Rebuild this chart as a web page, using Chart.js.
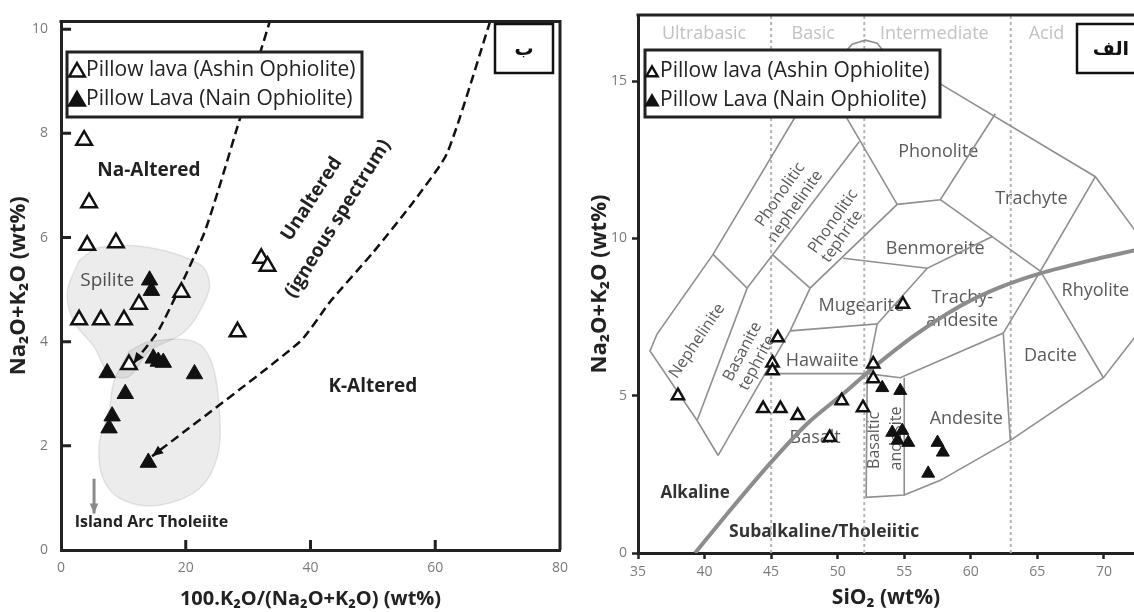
<!DOCTYPE html>
<html>
<head>
<meta charset="utf-8">
<script src="https://cdn.jsdelivr.net/npm/chart.js@4.4.1/dist/chart.umd.min.js"></script>
<style>
  html, body { margin: 0; padding: 0; background: #fff; overflow: hidden; }
  #left { position: absolute; left: 0; top: 0; width: 580px; height: 612px; }
  #right { position: absolute; left: 580px; top: 0; width: 554px; height: 612px; }
</style>
</head>
<body>
<div id="left"><canvas id="alteration" width="580" height="612"></canvas></div>
<div id="right"><canvas id="tas" width="554" height="612"></canvas></div>
<script>
// ---------- panel ب : alteration diagram ----------
const altXTicks = [0, 20, 40, 60, 80];
const altYTicks = [0, 2, 4, 6, 8, 10];

// Pillow lava (Ashin Ophiolite) - open triangles
const ashinAlt = [[3.7, 7.87], [4.5, 6.67], [4.2, 5.85], [8.8, 5.9], [32.1, 5.6], [33.1, 5.45],
  [19.3, 4.95], [12.5, 4.72], [2.9, 4.42], [6.4, 4.42], [10.1, 4.42], [28.3, 4.19], [10.9, 3.56]];
// Pillow Lava (Nain Ophiolite) - filled triangles
const nainAlt = [[14.2, 5.18], [14.5, 4.98], [14.8, 3.68], [15.6, 3.62], [16.4, 3.6], [7.4, 3.4],
  [21.4, 3.38], [10.3, 3.0], [8.2, 2.57], [7.7, 2.34], [14.0, 1.68]];

// igneous spectrum boundaries (dashed)
const naSideLine = [[33.6, 10.2], [28.6, 8.25], [23.0, 6.1], [15.8, 4.25], [11.6, 3.58]];
const kSideLine = [[68.8, 10.15], [61.9, 7.62], [56.4, 6.67], [50.0, 5.71], [43.1, 4.76], [38.3, 4.0], [14.6, 1.8]];

// shaded fields
const spiliteField = [[2.9, 5.56], [6.1, 5.81], [14.1, 5.81], [22.2, 5.49], [23.8, 5.14], [23.0, 4.76],
  [19.8, 4.19], [14.1, 3.81], [10.9, 3.33], [7.7, 3.39], [5.3, 3.9], [2.1, 4.38], [1.0, 4.95], [2.9, 5.56]];
const iatField = [[10.9, 3.81], [14.1, 4.0], [21.4, 4.0], [24.1, 3.62], [25.4, 2.67], [25.1, 1.81],
  [22.2, 1.18], [15.8, 0.86], [10.1, 0.95], [6.9, 1.33], [6.1, 2.0], [7.7, 2.67], [8.5, 3.24], [10.9, 3.81]];
const iatArrow = [[5.3, 1.37], [5.3, 0.7]];

// ---------- panel الف : TAS diagram ----------
const tasXTicks = [35, 40, 45, 50, 55, 60, 65, 70];
const tasYTicks = [0, 5, 10, 15];

const ashinTas = [[38.0, 5.0], [45.5, 6.84], [45.1, 6.04], [45.1, 5.79], [44.4, 4.59], [45.7, 4.59],
  [47.0, 4.37], [49.4, 3.67], [50.3, 4.84], [51.9, 4.62], [52.67, 6.01], [52.67, 5.54], [54.9, 7.91]];
const nainTas = [[53.35, 5.25], [54.7, 5.16], [54.1, 3.83], [54.85, 3.89], [55.3, 3.51], [54.5, 3.58],
  [57.5, 3.51], [57.9, 3.2], [56.8, 2.53]];

// alkaline / subalkaline divide
const alkalineCurve = [[39.29, 0], [41.92, 1.36], [44.92, 2.85], [47.71, 4.11], [50.41, 5.06], [52.67, 5.89],
  [55.83, 6.93], [59.21, 7.85], [62.22, 8.45], [65.23, 8.89], [68.98, 9.3], [72.29, 9.62]];

// SiO2 class limits
const silicaLimits = [45, 52, 63];
const silicaClasses = ['Ultrabasic', 'Basic', 'Intermediate', 'Acid'];

// field boundaries
const tasOuter = [[41.02, 3.1], [39.44, 4.21], [35.9, 6.42], [36.43, 6.96], [40.64, 9.49], [46.95, 13.96],
  [50.56, 15.92], [51.09, 16.17], [52.07, 16.3], [52.97, 16.2], [53.5, 15.92], [57.71, 14.91],
  [69.36, 11.96], [72.29, 10.28]];
const nephelinitePart = [[39.44, 4.21], [43.2, 8.42], [40.64, 9.49]];
const phonNephPart = [[43.2, 8.42], [51.62, 13.07]];
const phonoliteLeft = [[48.76, 15.22], [54.47, 11.08]];
const phonTephBottom = [[45.08, 9.49], [47.93, 8.42]];
const tephriteRight = [[54.47, 11.08], [47.93, 8.42], [46.43, 7.06], [44.55, 5.7], [41.02, 3.1]];
const phonoliteBottom = [[54.47, 11.08], [57.71, 11.23], [61.84, 13.96]];
const trachyteLeft = [[57.71, 11.23], [65.23, 8.96]];
const benmoreiteBottom = [[50.41, 9.37], [56.73, 9.05], [61.62, 10.06]];
const mugeariteRight = [[56.73, 9.05], [52.97, 7.28]];
const hawaiiteBox = [[46.43, 7.06], [52.97, 7.28], [52.22, 5.7], [44.55, 5.7]];
const basAndesiteBox = [[52.22, 5.7], [52.14, 1.77], [55.0, 1.84], [55.0, 5.57]];
const trachyandBottom = [[52.22, 5.7], [54.7, 5.57], [62.44, 6.99], [65.23, 8.96]];
const andesiteBottom = [[55.0, 1.84], [57.71, 2.31], [62.97, 3.58], [69.96, 5.57], [72.29, 6.84]];
const daciteLeft = [[62.44, 6.99], [62.97, 3.58]];
const rhyoliteLeft = [[69.36, 11.96], [65.23, 8.96], [69.96, 5.57]];

const tasBoundaries = [tasOuter, nephelinitePart, phonNephPart, phonoliteLeft, phonTephBottom, tephriteRight,
  phonoliteBottom, trachyteLeft, benmoreiteBottom, mugeariteRight, hawaiiteBox, basAndesiteBox,
  trachyandBottom, andesiteBottom, daciteLeft, rhyoliteLeft];

const pts = arr => arr.map(p => ({ x: p[0], y: p[1] }));

// ---------- plugins ----------
function drawTri(ctx, cx, cy, r, filled, lw) {
  ctx.beginPath();
  ctx.moveTo(cx, cy - r);
  ctx.lineTo(cx + r * 0.866, cy + r * 0.5);
  ctx.lineTo(cx - r * 0.866, cy + r * 0.5);
  ctx.closePath();
  ctx.fillStyle = filled ? '#111' : '#fff';
  ctx.fill();
  ctx.lineWidth = lw;
  ctx.strokeStyle = '#111';
  ctx.stroke();
}

const fieldLabels = {
  id: 'fieldLabels',
  beforeDatasetsDraw(chart, args, opts) {
    const { ctx, scales: { x, y } } = chart;
    for (const t of opts.items) {
      ctx.save();
      ctx.translate(x.getPixelForValue(t.x), y.getPixelForValue(t.y));
      ctx.rotate((t.rot || 0) * Math.PI / 180);
      ctx.font = t.font || opts.font;
      ctx.fillStyle = t.color || opts.color;
      ctx.textAlign = 'center';
      ctx.textBaseline = 'middle';
      ctx.fillText(t.text, 0, 0);
      ctx.restore();
    }
  }
};

const arrowHeads = {
  id: 'arrowHeads',
  afterDatasetsDraw(chart) {
    const ctx = chart.ctx;
    chart.data.datasets.forEach((ds, i) => {
      if (!ds.arrowEnd) return;
      const d = chart.getDatasetMeta(i).data;
      const a = d[d.length - 2], b = d[d.length - 1];
      const ang = Math.atan2(b.y - a.y, b.x - a.x);
      const L = ds.arrowSize || 12;
      ctx.save();
      ctx.fillStyle = ds.borderColor;
      ctx.beginPath();
      ctx.moveTo(b.x, b.y);
      ctx.lineTo(b.x - L * Math.cos(ang - 0.4), b.y - L * Math.sin(ang - 0.4));
      ctx.lineTo(b.x - L * Math.cos(ang + 0.4), b.y - L * Math.sin(ang + 0.4));
      ctx.closePath();
      ctx.fill();
      ctx.restore();
    });
  }
};

const boxes = {
  id: 'boxes',
  afterDatasetsDraw(chart, args, opts) {
    const ctx = chart.ctx;
    const lg = opts.legend;
    ctx.save();
    ctx.fillStyle = '#fff';
    ctx.fillRect(lg.x, lg.y, lg.w, lg.h);
    ctx.lineWidth = 3;
    ctx.strokeStyle = '#222';
    ctx.strokeRect(lg.x, lg.y, lg.w, lg.h);
    lg.rows.forEach((row, i) => {
      const cy = lg.y + lg.first + i * lg.gap;
      drawTri(ctx, lg.mx, cy + 2, lg.r, row.filled, 2.5);
      ctx.font = lg.font;
      ctx.fillStyle = '#222';
      ctx.textAlign = 'left';
      ctx.textBaseline = 'middle';
      ctx.fillText(row.text, lg.tx, cy);
    });
    const tag = opts.tag;
    ctx.fillStyle = '#fff';
    ctx.fillRect(tag.x, tag.y, tag.w, tag.h);
    ctx.strokeRect(tag.x, tag.y, tag.w, tag.h);
    ctx.font = 'bold 19px "DejaVu Sans"';
    ctx.fillStyle = '#111';
    ctx.textAlign = 'center';
    ctx.fillText(tag.text, tag.cx, tag.cy);
    ctx.restore();
  }
};

const frame = {
  id: 'frame',
  afterDraw(chart, args, opts) {
    const { ctx, chartArea: a, scales: { x, y } } = chart;
    ctx.save();
    ctx.strokeStyle = '#222';
    ctx.lineWidth = 3;
    ctx.beginPath();
    ctx.moveTo(a.left - 1.5, a.top);
    ctx.lineTo(a.right, a.top);
    if (opts.right) ctx.lineTo(a.right, a.bottom);
    ctx.stroke();
    if (opts.inwardTicks) {
      ctx.lineWidth = 3;
      ctx.beginPath();
      x.ticks.forEach(t => {
        const px = x.getPixelForValue(t.value);
        if (px > a.left + 2 && px < a.right - 2) { ctx.moveTo(px, a.bottom); ctx.lineTo(px, a.bottom - 10); }
      });
      y.ticks.forEach(t => {
        const py = y.getPixelForValue(t.value);
        if (py < a.bottom - 2) { ctx.moveTo(a.left, py); ctx.lineTo(a.left + 10, py); }
      });
      ctx.stroke();
    }
    ctx.restore();
  }
};

const tickFont = { family: '"Open Sans"', size: 14 };

function linAxis(min, max, tickList, title, titleSize, titlePad, ticksPad, size, drawTicks, isX) {
  return {
    type: 'linear', min: min, max: max,
    afterBuildTicks: s => { s.ticks = tickList.map(v => ({ value: v })); },
    afterFit: s => { if (isX) s.height = size; else s.width = size; },
    ticks: { font: tickFont, color: '#7a7a7a', padding: ticksPad },
    grid: { drawOnChartArea: false, drawTicks: drawTicks, tickLength: 6, tickWidth: 2.5, tickColor: '#222' },
    border: { display: true, color: '#222', width: 3 },
    title: { display: true, text: title, font: { family: '"Open Sans"', size: titleSize, weight: 'bold' }, color: '#222', padding: titlePad }
  };
}

// ---------- left chart ----------
new Chart(document.getElementById('alteration'), {
  type: 'scatter',
  data: {
    datasets: [
      { data: pts(ashinAlt), pointStyle: 'triangle', pointRadius: 9, backgroundColor: '#fff', borderColor: '#111', borderWidth: 2.5, order: 0 },
      { data: pts(nainAlt), pointStyle: 'triangle', pointRadius: 9.5, backgroundColor: '#111', borderColor: '#111', borderWidth: 1, order: 1 },
      { data: pts(naSideLine), showLine: true, pointRadius: 0, borderColor: '#111', borderWidth: 2.5, borderDash: [9, 5], tension: 0.2, arrowEnd: true, order: 5 },
      { data: pts(kSideLine), showLine: true, pointRadius: 0, borderColor: '#111', borderWidth: 2.5, borderDash: [9, 5], tension: 0.2, arrowEnd: true, order: 5 },
      { data: pts(iatArrow), showLine: true, pointRadius: 0, borderColor: '#8a8a8a', borderWidth: 3, arrowEnd: true, arrowSize: 11, order: 6 },
      { data: pts(spiliteField), showLine: true, pointRadius: 0, fill: 'shape', tension: 0.35, backgroundColor: 'rgba(0,0,0,0.075)', borderColor: 'rgba(0,0,0,0.09)', borderWidth: 1.5, order: 10 },
      { data: pts(iatField), showLine: true, pointRadius: 0, fill: 'shape', tension: 0.35, backgroundColor: 'rgba(0,0,0,0.075)', borderColor: 'rgba(0,0,0,0.09)', borderWidth: 1.5, order: 10 }
    ]
  },
  options: {
    responsive: false, animation: false, events: [],
    layout: { padding: { left: 0, right: 20, top: 15, bottom: 0 }, autoPadding: false },
    scales: {
      x: linAxis(0, 80, altXTicks, '100.K\u2082O/(Na\u2082O+K\u2082O) (wt%)', 20, { top: 0, bottom: 1 }, 10, 62, false, true),
      y: linAxis(0, 10.15, altYTicks, 'Na\u2082O+K\u2082O (wt%)', 22, { top: 6, bottom: 0 }, 13, 61, false, false)
    },
    plugins: {
      legend: { display: false }, tooltip: { enabled: false },
      fieldLabels: {
        font: 'bold 19px "Open Sans"', color: '#222',
        items: [
          { text: 'Na-Altered', x: 14.1, y: 7.28 },
          { text: 'Spilite', x: 7.4, y: 5.18, font: '19px "Open Sans"', color: '#555' },
          { text: 'Unaltered', x: 40.2, y: 6.74, rot: -57 },
          { text: '(igneous spectrum)', x: 44.4, y: 6.36, rot: -58 },
          { text: 'K-Altered', x: 50.0, y: 3.14 },
          { text: 'Island Arc Tholeiite', x: 14.5, y: 0.53, font: 'bold 16px "Open Sans"' }
        ]
      },
      boxes: {
        legend: { x: 67, y: 52, w: 295, h: 65, first: 18, gap: 29, mx: 77, r: 9, tx: 86, font: '21px "Open Sans"',
          rows: [{ text: 'Pillow lava (Ashin Ophiolite)', filled: false }, { text: 'Pillow Lava (Nain Ophiolite)', filled: true }] },
        tag: { x: 495, y: 24, w: 58, h: 49, cx: 524, cy: 50, text: '\u0628' }
      },
      frame: { right: true, inwardTicks: true }
    }
  },
  plugins: [fieldLabels, arrowHeads, boxes, frame]
});

// ---------- right chart ----------
const tasDatasets = [
  { data: pts(ashinTas), pointStyle: 'triangle', pointRadius: 7, backgroundColor: '#fff', borderColor: '#111', borderWidth: 2.5, order: 0 },
  { data: pts(nainTas), pointStyle: 'triangle', pointRadius: 7.5, backgroundColor: '#111', borderColor: '#111', borderWidth: 1, order: 1 },
  { data: pts(alkalineCurve), showLine: true, pointRadius: 0, borderColor: '#8c8c8c', borderWidth: 4, tension: 0.3, order: 4 }
];
silicaLimits.forEach(v => tasDatasets.push({
  data: [{ x: v, y: 0 }, { x: v, y: 17.1 }], showLine: true, pointRadius: 0,
  borderColor: '#b5b5b5', borderWidth: 2, borderDash: [3, 3], order: 8
}));
tasBoundaries.forEach(b => tasDatasets.push({
  data: pts(b), showLine: true, pointRadius: 0, borderColor: '#8f8f8f', borderWidth: 1.6, order: 6
}));

new Chart(document.getElementById('tas'), {
  type: 'scatter',
  data: { datasets: tasDatasets },
  options: {
    responsive: false, animation: false, events: [],
    layout: { padding: { left: 0, right: 0, top: 15, bottom: 0 }, autoPadding: false },
    scales: {
      x: linAxis(35, 72.26, tasXTicks, 'SiO\u2082 (wt%)', 21, { top: 0, bottom: 1 }, 5, 59, true, true),
      y: linAxis(0, 17.1, tasYTicks, 'Na\u2082O+K\u2082O (wt%)', 22, { top: 7, bottom: 0 }, 5, 58, true, false)
    },
    plugins: {
      legend: { display: false }, tooltip: { enabled: false },
      fieldLabels: {
        font: '18px "Open Sans"', color: '#5a5a5a',
        items: [
          { text: silicaClasses[0], x: 39.96, y: 16.49, color: '#c2c2c2' },
          { text: silicaClasses[1], x: 48.16, y: 16.49, color: '#c2c2c2' },
          { text: silicaClasses[2], x: 57.26, y: 16.49, color: '#c2c2c2' },
          { text: silicaClasses[3], x: 65.68, y: 16.49, color: '#c2c2c2' },
          { text: 'Phonolite', x: 57.56, y: 12.75 },
          { text: 'Trachyte', x: 64.55, y: 11.27 },
          { text: 'Benmoreite', x: 57.33, y: 9.68 },
          { text: 'Mugearite', x: 51.77, y: 7.85 },
          { text: 'Trachy-', x: 59.36, y: 8.1 },
          { text: 'andesite', x: 59.36, y: 7.37 },
          { text: 'Rhyolite', x: 69.36, y: 8.32 },
          { text: 'Dacite', x: 65.98, y: 6.27 },
          { text: 'Andesite', x: 59.66, y: 4.27 },
          { text: 'Hawaiite', x: 48.83, y: 6.11 },
          { text: 'Basalt', x: 48.31, y: 3.67 },
          { text: 'Basaltic', x: 52.75, y: 3.58, rot: -90, font: '16px "Open Sans"' },
          { text: 'andesite', x: 54.4, y: 3.64, rot: -90, font: '16px "Open Sans"' },
          { text: 'Nephelinite', x: 39.44, y: 6.74, rot: -56, font: '16px "Open Sans"' },
          { text: 'Basanite', x: 42.85, y: 6.4, rot: -62, font: '16px "Open Sans"' },
          { text: 'tephrite', x: 43.95, y: 6.04, rot: -62, font: '16px "Open Sans"' },
          { text: 'Phonolitic', x: 45.68, y: 11.39, rot: -55, font: '16px "Open Sans"' },
          { text: 'nephelinite', x: 46.8, y: 11.01, rot: -55, font: '16px "Open Sans"' },
          { text: 'Phonolitic', x: 49.66, y: 10.54, rot: -55, font: '16px "Open Sans"' },
          { text: 'tephrite', x: 50.34, y: 10.06, rot: -55, font: '16px "Open Sans"' },
          { text: 'Alkaline', x: 39.29, y: 1.9, font: 'bold 17px "Open Sans"', color: '#333' },
          { text: 'Subalkaline/Tholeiitic', x: 48.98, y: 0.66, font: 'bold 17.5px "Open Sans"', color: '#333' }
        ]
      },
      boxes: {
        legend: { x: 65, y: 50, w: 295, h: 67, first: 21, gap: 29, mx: 72, r: 6.5, tx: 80, font: '21px "Open Sans"',
          rows: [{ text: 'Pillow lava (Ashin Ophiolite)', filled: false }, { text: 'Pillow Lava (Nain Ophiolite)', filled: true }] },
        tag: { x: 497, y: 24, w: 70, h: 49, cx: 531, cy: 50, text: '\u0627\u0644\u0641' }
      },
      frame: { right: false, inwardTicks: false }
    }
  },
  plugins: [fieldLabels, arrowHeads, boxes, frame]
});
</script>
</body>
</html>
